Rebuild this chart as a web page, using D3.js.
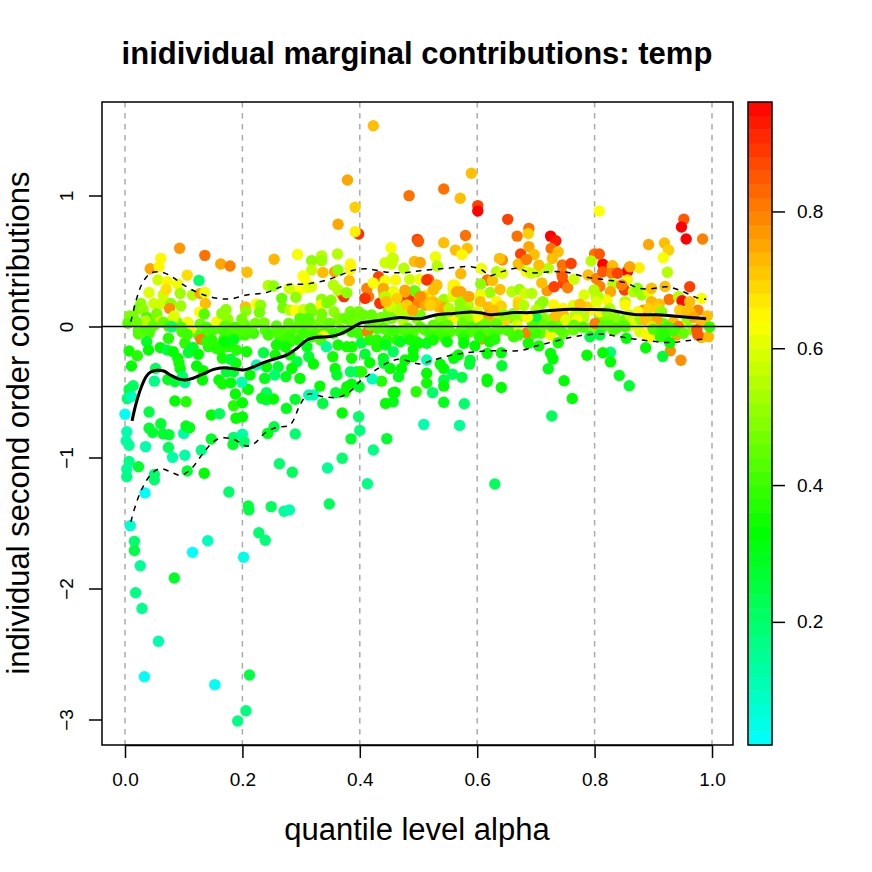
<!DOCTYPE html>
<html><head><meta charset="utf-8">
<script src="https://cdn.jsdelivr.net/npm/d3@7/dist/d3.min.js"></script>
<style>html,body{margin:0;background:#fff}svg{display:block}text{font-family:"Liberation Sans",Arial,sans-serif}</style>
</head><body><svg id="c" width="872" height="872"></svg>
<script>
const titleText="inidividual marginal contributions: temp";
const xLabel="quantile level alpha", yLabel="individual second order contributions";
const xTicks=[0,0.2,0.4,0.6,0.8,1], yTicks=[1,0,-1,-2,-3], barTicks=[0.2,0.4,0.6,0.8];
const tempStops=[0.02,0.33,0.64,0.96], stopColours=["#00ffff","#00ff00","#ffff00","#ff0000"];
// each point: alpha, contribution, temp
const lowTail=[[0,-.67,.03],[.003,-.803,.12],[.002,-.872,.13],[.007,-.907,.15],[.007,-1.03,.17],[.003,-1.088,.15],[.003,-1.146,.17],[.023,-1.07,.27],[.05,-1.17,.2],[.05,-1.13,.2],[.034,-1.27,.03],[.009,-1.52,.08],[.016,-1.64,.2],[.016,-1.71,.24],[.035,-.917,.12],[.041,-.653,.25],[.041,-.777,.27],[.047,-.808,.27],[.061,-.742,.27],[.065,-.82,.27],[.075,-.826,.27],[.074,-.923,.22],[.081,-.999,.13],[.102,-.983,.13],[.1,-.816,.13],[.104,-.76,.3],[.11,-.772,.3],[.085,-.569,.33],[.104,-.574,.37],[.147,-.676,.33],[.161,-.665,.22],[.189,-.7,.33],[.2,-.69,.33],[.185,-.604,.37],[.2,-.582,.33],[.188,-.515,.33],[.21,-.48,.33],[.147,-.859,.28],[.185,-.846,.2],[.2,-.823,.13],[.184,-.9,.27],[.203,-.879,.2],[.13,-.945,.17],[.106,-1.103,.27],[.135,-1.12,.33],[.177,-1.263,.2],[.21,-1.37,.25],[.211,-1.4,.25],[.249,-1.375,.22],[.271,-1.41,.15],[.28,-1.4,.12],[.263,-1.047,.2],[.285,-1.113,.22],[.345,-1.08,.15],[.348,-1.355,.22],[.37,-1.006,.2],[.413,-1.2,.17],[.423,-.943,.17],[.385,-.858,.27],[.446,-.856,.27],[.4,-.793,.18],[.398,-.688,.2],[.37,-.66,.33],[.337,-.587,.25],[.321,-.523,.1],[.313,-.523,.12],[.29,-.556,.28],[.275,-.625,.3],[.29,-.82,.2],[.254,-.765,.25],[.243,-.816,.3],[.241,-.505,.22],[.241,-.56,.25],[.233,-.548,.3],[.253,-.554,.33],[.228,-1.574,.2],[.239,-1.632,.18],[.141,-1.635,.1],[.115,-1.724,.02],[.202,-1.762,.05],[.496,-.497,.37],[.46,-.502,.33],[.457,-.574,.3],[.444,-.587,.33],[.437,-.417,.37],[.421,-.4,.1],[.509,-.747,.12],[.026,-1.826,.15],[.084,-1.92,.28],[.018,-2.032,.17],[.029,-2.152,.16],[.057,-2.403,.12],[.033,-2.673,.03],[.153,-2.734,.03],[.212,-2.66,.25],[.206,-2.933,.18],[.192,-3.012,.17],[.63,-1.202,.22],[.727,-.683,.22],[.57,-.755,.15]];
const hotPeaks=[[.423,1.533,.72],[.379,1.118,.75],[.392,.91,.7],[.484,.999,.82],[.363,.78,.75],[.398,.706,.9],[.392,.724,.66],[.498,.665,.88],[.453,.601,.63],[.443,.487,.58],[.457,.513,.57],[.59,1.17,.72],[.543,1.05,.82],[.571,.979,.72],[.601,.923,.88],[.601,.881,.97],[.652,.818,.88],[.688,.749,.82],[.668,.69,.82],[.687,.71,.7],[.725,.69,.97],[.734,.655,.93],[.726,.596,.82],[.543,.64,.72],[.58,.695,.82],[.563,.583,.72],[.583,.596,.72],[.574,.55,.65],[.529,.533,.62],[.532,.462,.55],[.5,.65,.85],[.808,.881,.64],[.952,.819,.85],[.948,.759,.97],[.956,.668,.97],[.984,.668,.8],[.892,.626,.75],[.919,.637,.72],[.926,.583,.7],[.917,.525,.63],[.924,.414,.55],[.962,.304,.88],[.876,.449,.66],[.859,.45,.78],[.856,.42,.97],[.814,.475,.97],[.8,.553,.82],[.808,.553,.85],[.794,.5,.55],[.831,.46,.72],[.674,.553,.88],[.688,.61,.75],[.697,.55,.72]];
const upperLeft=[[.093,.597,.77],[.136,.543,.82],[.163,.477,.75],[.179,.462,.8],[.208,.414,.72],[.043,.441,.75],[.061,.52,.65],[.058,.456,.65],[.106,.392,.68],[.126,.352,.2],[.056,.355,.58],[.072,.342,.65],[.09,.322,.62],[.041,.259,.6],[.065,.24,.58],[.07,.283,.68],[.094,.253,.52],[.115,.24,.55],[.128,.252,.75],[.136,.26,.62],[.137,.176,.72],[.049,.176,.58],[.062,.176,.58],[.078,.176,.5],[.095,.156,.52],[.076,.138,.78],[.027,.176,.5],[.023,.138,.47],[.031,.13,.5],[.008,.08,.48],[.014,.045,.47],[.037,.07,.42],[.035,.042,.55],[.054,.097,.48],[.06,.035,.65],[.084,.08,.6],[.08,.05,.6],[.127,.11,.64],[.135,.095,.43],[.107,.033,.62],[.111,-.026,.66],[.156,.035,.62],[.172,.13,.5],[.165,.1,.5],[.175,.055,.5],[.205,.15,.72],[.206,.118,.5],[.224,.17,.63],[.231,.162,.5],[.229,.108,.47],[.199,.055,.47],[.244,.313,.55],[.254,.513,.73],[.294,.55,.63],[.335,.538,.55],[.362,.553,.55],[.318,.503,.5],[.335,.503,.52],[.318,.431,.57],[.303,.385,.64],[.307,.355,.64],[.337,.413,.72],[.357,.418,.75],[.384,.477,.65],[.384,.436,.65],[.382,.35,.72],[.363,.431,.5],[.369,.248,.76],[.373,.228,.9],[.355,.317,.55],[.363,.279,.55],[.378,.258,.5],[.253,.309,.5],[.28,.291,.58],[.297,.279,.64],[.31,.297,.62],[.318,.304,.6],[.267,.215,.45],[.291,.223,.5],[.269,.143,.47],[.281,.125,.55],[.29,.125,.64],[.304,.13,.58],[.316,.138,.48],[.335,.208,.5],[.334,.165,.65],[.351,.2,.5],[.344,.18,.48],[.318,.113,.48],[.356,.113,.5],[.335,.095,.47],[.365,.062,.48],[.384,.113,.47],[.398,.113,.47],[.386,.088,.45],[.375,.062,.45],[.312,.062,.43],[.298,.062,.43],[.335,.05,.47]];
const upperMid=[[.432,.38,.88],[.456,.523,.57],[.454,.477,.57],[.475,.445,.55],[.493,.496,.72],[.503,.488,.75],[.423,.33,.65],[.443,.35,.63],[.412,.29,.8],[.415,.228,.8],[.409,.215,.82],[.434,.177,.85],[.44,.291,.75],[.441,.24,.7],[.457,.266,.58],[.461,.355,.65],[.485,.36,.58],[.502,.36,.62],[.517,.36,.85],[.493,.273,.47],[.477,.278,.75],[.482,.222,.85],[.471,.2,.85],[.466,.138,.6],[.449,.125,.5],[.497,.177,.8],[.514,.24,.65],[.511,.162,.75],[.473,.05,.55],[.437,.07,.47],[.454,.062,.47],[.503,.088,.47],[.42,.088,.45],[.406,.088,.45],[.607,.444,.62],[.617,.355,.82],[.626,.35,.72],[.633,.418,.55],[.643,.508,.78],[.638,.52,.72],[.643,.406,.6],[.606,.324,.5],[.622,.26,.52],[.639,.283,.72],[.572,.403,.73],[.562,.316,.65],[.559,.291,.6],[.531,.316,.75],[.526,.279,.65],[.543,.206,.52],[.572,.265,.75],[.572,.19,.5],[.558,.228,.6],[.586,.228,.73],[.605,.24,.62],[.605,.19,.72],[.525,.19,.72],[.537,.15,.75],[.585,.165,.55],[.619,.15,.72],[.633,.19,.65],[.641,.155,.7],[.559,.062,.65],[.602,.068,.65],[.621,.057,.72],[.636,.1,.55],[.647,.05,.7],[.662,.1,.5],[.659,.265,.55],[.672,.283,.52],[.681,.253,.58],[.693,.253,.55],[.67,.19,.68],[.67,.165,.7],[.679,.162,.55],[.712,.19,.5],[.707,.165,.5],[.7,.125,.55],[.7,.07,.25],[.719,.273,.77],[.71,.333,.72],[.702,.418,.55],[.721,.444,.55],[.684,.418,.65],[.673,.469,.55],[.67,.477,.72],[.684,.512,.8],[.705,.469,.72],[.692,.406,.58],[.728,.52,.72],[.738,.57,.72],[.745,.469,.82],[.76,.481,.88],[.744,.406,.8],[.747,.33,.88],[.731,.303,.88],[.754,.296,.8],[.765,.36,.58],[.745,.38,.85],[.73,.165,.65],[.764,.16,.6],[.746,.138,.65],[.733,.08,.72],[.747,.088,.72],[.751,.05,.6],[.767,.088,.55],[.668,.01,.6],[.682,.08,.55],[.684,-.05,.8],[.608,-.095,.78]];
const upperRight=[[.789,.393,.72],[.803,.367,.8],[.83,.464,.72],[.86,.456,.75],[.814,.418,.85],[.829,.406,.8],[.839,.406,.88],[.856,.355,.65],[.831,.324,.55],[.809,.305,.8],[.851,.279,.88],[.846,.317,.8],[.827,.265,.75],[.782,.24,.6],[.799,.279,.55],[.803,.228,.55],[.821,.203,.65],[.866,.265,.55],[.873,.292,.5],[.88,.24,.52],[.892,.265,.6],[.897,.292,.72],[.92,.305,.72],[.927,.207,.82],[.943,.228,.55],[.949,.197,.95],[.962,.19,.72],[.982,.215,.63],[.976,.125,.8],[.992,.08,.72],[.852,.19,.55],[.852,.165,.65],[.883,.125,.78],[.897,.19,.73],[.91,.171,.72],[.907,.138,.7],[.892,.138,.7],[.914,.113,.5],[.895,.062,.5],[.877,.05,.5],[.835,.07,.5],[.826,.138,.55],[.792,.125,.65],[.809,.113,.65],[.781,.1,.55],[.945,.125,.7],[.962,.113,.72],[.957,.035,.5],[.801,.024,.8],[.877,-.04,.6],[.894,-.078,.65],[.903,-.025,.7],[.94,-.065,.75],[.967,-.025,.5],[.946,0,.6],[.982,-.083,.73],[.994,-.078,.73],[.976,-.065,.85],[.929,-.185,.78],[.947,-.258,.78],[.129,-.098,.8],[.338,-.073,.65],[.413,-.04,.8]];
const midFill=[[.514,.355,.9],[.531,.317,.72],[.525,.278,.72],[.508,.228,.72],[.525,.177,.72],[.54,.15,.75],[.559,.317,.65],[.565,.265,.75],[.585,.228,.75],[.571,.177,.5],[.423,.33,.63],[.44,.279,.75],[.457,.258,.62],[.471,.19,.88],[.483,.222,.9],[.494,.27,.45],[.469,.14,.55],[.449,.126,.47],[.477,.263,.75],[.503,.228,.78],[.435,.177,.9],[.409,.215,.9],[.452,.152,.58],[.463,.215,.7],[.443,.228,.55],[.48,.165,.7],[.445,.19,.72],[.49,.125,.75],[.534,.15,.72],[.52,.162,.7],[.543,.138,.75],[.552,.138,.55],[.582,.113,.5],[.568,.113,.5],[.553,.113,.55],[.6,.113,.6],[.619,.088,.75],[.628,.125,.72],[.647,.088,.5],[.686,.07,.65],[.787,.15,.7],[.775,.17,.72],[.806,.228,.55],[.803,.19,.6],[.821,.113,.5],[.86,.088,.58],[.874,.113,.65],[.886,.05,.72],[.906,.05,.75],[.897,0,.68],[.934,.036,.72],[.943,0,.8],[.957,.113,.72],[.969,.07,.75],[.982,.024,.72],[.974,-.026,.85],[.863,.01,.6],[.889,-.065,.65],[.77,.05,.65],[.725,-.065,.62]];
const zeroBand=[[.005,.025,.44],[.02,.03,.46],[.048,.004,.44],[.065,.032,.46],[.074,.003,.42],[.08,-.002,.2],[.096,-.007,.42],[.128,.018,.46],[.139,-.006,.42],[.145,-.052,.42],[.17,.003,.44],[.187,-.006,.42],[.199,-.03,.42],[.213,-.025,.42],[.17,-.052,.4],[.222,.024,.47],[.237,.028,.47],[.244,-.065,.4],[.258,.004,.44],[.279,.024,.45],[.298,.004,.44],[.312,.004,.44],[.349,.024,.45],[.417,.01,.44],[.44,-.013,.42],[.457,-.03,.4],[.482,-.013,.42],[.503,-.006,.42],[.52,-.025,.4],[.525,.01,.44],[.54,-.006,.42],[.55,.01,.44],[.575,.02,.45],[.59,-.006,.42],[.605,-.006,.42],[.614,.02,.45],[.633,.02,.44],[.653,-.03,.42],[.67,-.065,.4],[.7,-.05,.4],[.712,.01,.45],[.727,0,.43],[.741,-.025,.43],[.765,.01,.45],[.695,0,.42],[.78,-.006,.42],[.815,.003,.43],[.825,.01,.44],[.837,-.013,.42],[.852,0,.42],[.912,-.078,.38],[.92,-.065,.38],[.926,-.006,.4],[.951,-.052,.45],[.996,-.004,.38],[.9,-.02,.42],[.915,-.03,.38],[.935,-.03,.4]];
const zeroFill=[[.014,.075,.48],[.006,.036,.46],[.028,.024,.46],[.043,.05,.47],[.054,.024,.45],[.037,-.014,.43],[.023,-.026,.42],[.041,-.052,.42],[.088,.036,.47],[.097,-.04,.42],[.108,-.014,.42],[.125,-.065,.42],[.139,-.065,.4],[.15,-.026,.42],[.162,-.014,.42],[.179,-.052,.4],[.193,-.065,.4],[.204,.012,.45],[.204,-.065,.4],[.219,-.052,.4],[.239,-.026,.42],[.168,-.103,.38],[.151,-.14,.38],[.162,-.18,.36],[.176,-.154,.37],[.142,-.154,.37],[.105,-.065,.42],[.258,-.015,.42],[.275,-.026,.42],[.292,-.015,.42],[.31,-.026,.42],[.324,-.04,.42],[.341,-.04,.4],[.355,-.052,.4],[.369,-.026,.42],[.386,-.04,.4],[.398,-.052,.4],[.298,.024,.46],[.315,.036,.46],[.332,.024,.46],[.364,.05,.47],[.384,.036,.46],[.395,.05,.47],[.429,-.015,.42],[.446,-.026,.42],[.472,-.026,.42],[.491,-.04,.42],[.511,-.026,.42],[.264,-.09,.4],[.281,-.116,.38],[.295,-.103,.38],[.318,-.078,.4],[.44,-.128,.38],[.463,-.103,.38],[.48,-.09,.4],[.497,-.116,.38],[.446,-.103,.38],[.429,-.154,.36],[.429,.05,.47],[.446,.062,.5],[.466,.088,.55],[.483,.088,.55],[.497,.062,.5],[.537,.062,.5],[.548,.07,.47],[.576,.062,.47],[.588,.05,.5],[.633,.05,.47],[.659,.062,.48],[.67,.07,.5],[.693,.036,.46],[.712,.07,.5],[.723,.05,.5],[.735,.024,.46],[.758,.024,.5],[.764,-.026,.45],[.747,-.052,.45],[.708,-.052,.45],[.691,-.065,.42],[.662,-.078,.4],[.65,-.026,.42],[.636,-.026,.42],[.622,-.052,.42],[.605,-.026,.42],[.588,-.04,.42],[.571,-.04,.42],[.554,-.04,.42],[.537,-.065,.4],[.525,-.052,.4],[.545,-.09,.4],[.577,-.065,.4],[.628,-.078,.4],[.52,-.065,.4],[.781,.062,.55],[.809,.062,.47],[.824,.05,.48],[.838,.05,.5],[.851,.05,.47],[.917,.024,.45],[.926,-.015,.42],[.912,-.026,.42],[.92,-.078,.36],[.909,-.052,.38],[.832,-.026,.42],[.844,.01,.44],[.809,-.015,.45],[.792,-.015,.5]];
const lowerBand=[[.023,-.057,.43],[.041,-.04,.42],[.037,-.116,.28],[.04,-.18,.33],[.007,-.187,.35],[.021,-.223,.37],[.011,-.302,.33],[.06,-.161,.33],[.074,-.09,.37],[.072,-.18,.25],[.082,-.192,.33],[.09,-.243,.33],[.094,-.32,.33],[.092,-.28,.35],[.102,-.128,.38],[.106,-.059,.4],[.116,-.159,.27],[.108,-.198,.27],[.125,-.212,.33],[.122,-.302,.33],[.133,-.337,.33],[.132,-.408,.33],[.139,-.116,.38],[.148,-.103,.38],[.156,-.167,.37],[.166,-.243,.35],[.17,-.116,.33],[.185,-.103,.3],[.19,-.18,.37],[.207,-.192,.35],[.189,-.28,.35],[.18,-.25,.27],[.173,-.345,.27],[.185,-.345,.27],[.16,-.408,.33],[.166,-.438,.35],[.18,-.43,.33],[.199,-.426,.12],[.213,-.37,.33],[.052,-.32,.22],[.05,-.417,.17],[.073,-.404,.3],[.085,-.42,.27],[.102,-.428,.17],[.098,-.383,.2],[.007,-.48,.25],[.014,-.452,.22],[.004,-.55,.2],[.011,-.535,.1],[.236,-.2,.25],[.238,-.396,.3],[.241,-.307,.33],[.224,-.294,.12],[.261,-.052,.42],[.281,-.078,.4],[.304,-.052,.4],[.258,-.141,.35],[.273,-.154,.35],[.256,-.218,.35],[.281,-.218,.35],[.31,-.154,.3],[.313,-.23,.27],[.293,-.268,.25],[.321,-.286,.33],[.284,-.32,.33],[.261,-.307,.27],[.255,-.37,.2],[.274,-.383,.3],[.298,-.396,.33],[.333,-.103,.42],[.343,-.154,.15],[.363,-.141,.35],[.378,-.154,.35],[.387,-.154,.35],[.354,-.23,.35],[.386,-.243,.35],[.358,-.32,.33],[.361,-.37,.28],[.384,-.345,.22],[.395,-.345,.22],[.403,-.345,.37],[.332,-.455,.33],[.359,-.505,.27],[.378,-.46,.33],[.375,-.5,.35],[.386,-.44,.33],[.399,-.46,.28],[.409,-.211,.27],[.417,-.276,.33],[.44,-.243,.3],[.452,-.32,.33],[.457,-.192,.22],[.441,-.28,.27],[.477,-.256,.33],[.491,-.23,.33],[.471,-.32,.33],[.466,-.383,.3],[.514,-.256,.12],[.514,-.357,.33],[.514,-.432,.35],[.457,-.505,.33],[.403,-.124,.25],[.417,-.103,.37],[.429,-.103,.37],[.444,-.141,.3],[.469,-.116,.3],[.486,-.103,.35],[.5,-.128,.35],[.491,-.18,.33],[.514,-.128,.3],[.525,-.103,.35],[.549,-.116,.33],[.577,-.09,.37],[.577,-.128,.33],[.596,-.148,.33],[.604,-.078,.37],[.621,-.116,.35],[.63,-.097,.37],[.617,-.205,.33],[.641,-.2,.33],[.642,-.3,.27],[.617,-.403,.33],[.617,-.42,.33],[.641,-.466,.33],[.588,-.257,.27],[.587,-.287,.27],[.568,-.217,.33],[.56,-.243,.33],[.537,-.287,.33],[.543,-.32,.33],[.558,-.365,.22],[.574,-.388,.25],[.543,-.408,.25],[.543,-.455,.33],[.524,-.505,.2],[.543,-.578,.3],[.578,-.59,.2],[.687,-.128,.35],[.705,-.148,.35],[.738,-.123,.35],[.725,-.205,.33],[.729,-.247,.33],[.721,-.322,.3],[.748,-.414,.33],[.762,-.55,.33],[.792,-.078,.25],[.809,-.065,.25],[.854,-.09,.33],[.887,-.162,.33],[.928,-.123,.33],[.916,-.228,.27],[.827,-.197,.2],[.814,-.2,.33],[.787,-.22,.33],[.827,-.27,.33],[.842,-.373,.3],[.859,-.452,.27]];
const smoothAlpha=[.012,.019,.028,.036,.043,.054,.066,.077,.091,.102,.116,.133,.151,.168,.185,.202,.219,.236,.253,.276,.293,.31,.327,.35,.366,.383,.4,.417,.44,.468,.503,.531,.56,.59,.605,.622,.639,.662,.69,.719,.747,.787,.826,.843,.872,.906,.934,.968,.99];
const smoothMean=[-.72,-.586,-.46,-.383,-.35,-.334,-.34,-.37,-.4,-.408,-.395,-.362,-.327,-.314,-.322,-.332,-.307,-.276,-.25,-.217,-.166,-.103,-.082,-.077,-.058,-.021,.024,.037,.05,.068,.06,.09,.1,.11,.105,.09,.095,.106,.106,.12,.13,.13,.125,.11,.09,.09,.08,.067,.059];
const upperAlpha=[.01,.019,.028,.037,.045,.062,.08,.097,.122,.151,.179,.207,.241,.275,.31,.344,.366,.389,.412,.446,.474,.503,.548,.59,.608,.622,.639,.668,.69,.73,.752,.787,.821,.85,.878,.9,.923,.951,.974,.99];
const upperBound=[.037,.2,.317,.38,.41,.415,.38,.325,.263,.22,.21,.24,.26,.317,.325,.355,.39,.43,.44,.415,.41,.426,.444,.457,.431,.388,.414,.444,.411,.419,.414,.376,.355,.337,.29,.29,.304,.266,.22,.208];
const lowerAlpha=[.01,.02,.031,.046,.06,.077,.094,.111,.133,.151,.165,.185,.207,.221,.238,.258,.281,.298,.312,.338,.363,.383,.4,.423,.446,.468,.503,.525,.559,.599,.639,.673,.701,.741,.775,.809,.843,.872,.93,.957,.992];
const lowerBound=[-1.49,-1.337,-1.22,-1.12,-1.085,-1.108,-1.136,-1.095,-.968,-.879,-.851,-.861,-.912,-.891,-.815,-.77,-.752,-.6,-.516,-.536,-.541,-.498,-.42,-.345,-.28,-.25,-.286,-.256,-.217,-.192,-.184,-.184,-.149,-.103,-.07,-.057,-.078,-.098,-.123,-.108,-.095];

const svg=d3.select("#c");
const L=102,R=733,T=102,B=745;
const x=d3.scaleLinear().domain([0,1]).range([125,712]);
const y=d3.scaleLinear().domain([0,1]).range([326.5,195.5]);
const colour=d3.scaleLinear().domain(tempStops).range(stopColours).clamp(true);
const toPt=d3.line().x(d=>x(d[0])).y(d=>y(d[1])).curve(d3.curveCatmullRom.alpha(.5));

svg.append("g").selectAll("line").data(xTicks).join("line")
 .attr("x1",d=>x(d)).attr("x2",d=>x(d)).attr("y1",T).attr("y2",B)
 .attr("stroke","#aaaaaa").attr("stroke-width",1.5).attr("stroke-dasharray","5.5,5.5");
const points=[].concat(lowTail,zeroFill,hotPeaks,upperLeft,upperMid,upperRight,midFill,zeroBand,lowerBand);
svg.append("g").selectAll("circle").data(points).join("circle")
 .attr("cx",d=>x(d[0])).attr("cy",d=>y(d[1])).attr("r",5.7).attr("fill",d=>colour(d[2]));
svg.append("line").attr("x1",L).attr("x2",R).attr("y1",y(0)).attr("y2",y(0)).attr("stroke","#000").attr("stroke-width",1.5);
svg.append("path").attr("d",toPt(d3.zip(smoothAlpha,smoothMean))).attr("fill","none").attr("stroke","#000").attr("stroke-width",3);
[[upperAlpha,upperBound],[lowerAlpha,lowerBound]].forEach(([a,v])=>{
 svg.append("path").attr("d",toPt(d3.zip(a,v))).attr("fill","none").attr("stroke","#000").attr("stroke-width",1.5).attr("stroke-dasharray","5.5,5.5");
});
svg.append("rect").attr("x",L).attr("y",T).attr("width",R-L).attr("height",B-T).attr("fill","none").attr("stroke","#000").attr("stroke-width",1.5);

function styleAxis(g){g.selectAll("text").attr("font-size",19).attr("fill","#000").attr("font-family",'"Liberation Sans"');g.selectAll("line,path").attr("stroke","#000").attr("stroke-width",1.5);}
const minus=d=>String(d).replace("-","\u2212");
const xa=svg.append("g").attr("transform",`translate(0,${B})`).call(d3.axisBottom(x).tickValues(xTicks).tickSize(13).tickSizeOuter(0).tickFormat(d3.format(".1f")));
xa.select(".domain").attr("d",`M${x(0)},0.5H${x(1)}`);styleAxis(xa);xa.selectAll("text").attr("y",28);
const ya=svg.append("g").attr("transform",`translate(${L},0)`).call(d3.axisLeft(y).tickValues(yTicks).tickSize(13).tickSizeOuter(0).tickFormat(minus));
ya.select(".domain").remove();styleAxis(ya);
ya.selectAll("text").attr("text-anchor","middle").attr("x",0).attr("y",0).attr("dy",0)
 .attr("transform","translate(-29,0) rotate(-90)");

// colour bar
const bandCount=47;
const bar=d3.scaleLinear().domain([0.02,0.96]).range([745,102]);
const bands=d3.range(bandCount);
const bh=(745-102)/bandCount;
svg.append("g").selectAll("rect").data(bands).join("rect")
 .attr("x",748).attr("width",24).attr("y",i=>745-(i+1)*bh).attr("height",bh+.4)
 .attr("fill",i=>colour(0.02+(i+.5)*(0.94/bandCount)));
svg.append("rect").attr("x",748).attr("y",102).attr("width",24).attr("height",643).attr("fill","none").attr("stroke","#000").attr("stroke-width",1.5);
const ba=svg.append("g").attr("transform","translate(772,0)").call(d3.axisRight(bar).tickValues(barTicks).tickSize(13).tickSizeOuter(0).tickFormat(d3.format(".1f")));
ba.select(".domain").remove();styleAxis(ba);ba.selectAll("text").attr("x",25);

svg.append("text").attr("x",417).attr("y",64).attr("text-anchor","middle").attr("font-size",31).attr("font-weight","bold").text(titleText);
svg.append("text").attr("x",417).attr("y",840).attr("text-anchor","middle").attr("font-size",31).text(xLabel);
svg.append("text").attr("transform","translate(28.5,423) rotate(-90)").attr("text-anchor","middle").attr("font-size",31).text(yLabel);
</script></body></html>
